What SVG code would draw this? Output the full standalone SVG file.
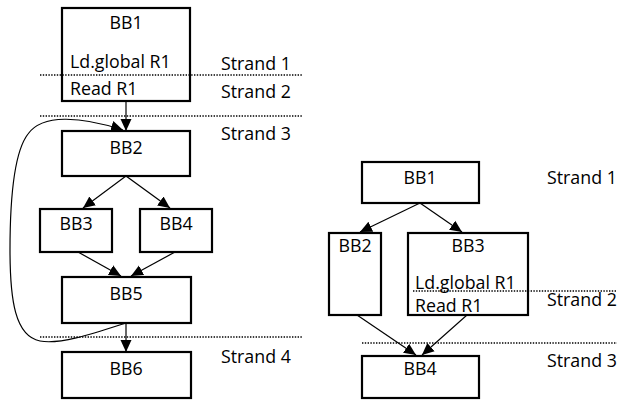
<svg xmlns="http://www.w3.org/2000/svg" width="617" height="403" viewBox="0 0 617 403">
<defs>
<marker id="ah" markerUnits="userSpaceOnUse" markerWidth="13" markerHeight="13" viewBox="0 0 13 13" refX="12" refY="6.5" orient="auto">
<path d="M0,1 L12,6.5 L0,12 Z" fill="#000"/>
</marker>
</defs>
<style>
.box{fill:#fff;stroke:#000;stroke-width:2.2}
.t{font-family:"Open Sans","Liberation Sans",sans-serif;font-size:17.8px;fill:#000}
.c{text-anchor:middle}
.e{fill:none;stroke:#000;stroke-width:1.2;marker-end:url(#ah)}
.dot{stroke:#000;stroke-width:1.6;stroke-dasharray:1.4 1.4;fill:none}
</style>
<rect width="617" height="403" fill="#fff"/>
<g id="L-BB1"><rect class="box" x="62" y="8" width="128" height="93"/>
<text class="t c" x="126" y="29">BB1</text>
<text class="t" x="70" y="68">Ld.global R1</text>
<text class="t" x="70" y="95">Read R1</text></g>
<g id="L-BB2"><rect class="box" x="62" y="131" width="128" height="45"/><text class="t c" x="126" y="154">BB2</text></g>
<g id="L-BB3"><rect class="box" x="40" y="209" width="72" height="43"/><text class="t c" x="76" y="230">BB3</text></g>
<g id="L-BB4"><rect class="box" x="140" y="209" width="72" height="43"/><text class="t c" x="176" y="230">BB4</text></g>
<g id="L-BB5"><rect class="box" x="62" y="277" width="129" height="46"/><text class="t c" x="126" y="300">BB5</text></g>
<g id="L-BB6"><rect class="box" x="62" y="352" width="129" height="46"/><text class="t c" x="126" y="375">BB6</text></g>
<g id="strands-left">
<text class="t" x="221" y="70">Strand 1</text>
<text class="t" x="221" y="98">Strand 2</text>
<text class="t" x="221" y="140">Strand 3</text>
<text class="t" x="221" y="363">Strand 4</text>
</g>
<g id="R-BB1"><rect class="box" x="362" y="162" width="117" height="41"/><text class="t c" x="420" y="184">BB1</text></g>
<g id="R-BB2"><rect class="box" x="329" y="233" width="52" height="82"/><text class="t c" x="355" y="252">BB2</text></g>
<g id="R-BB3"><rect class="box" x="408" y="233" width="120" height="82"/>
<text class="t c" x="468" y="252">BB3</text>
<text class="t" x="415" y="289">Ld.global R1</text>
<text class="t" x="415" y="312">Read R1</text></g>
<g id="R-BB4"><rect class="box" x="362" y="356" width="117" height="42"/><text class="t c" x="420" y="375">BB4</text></g>
<g id="strands-right">
<text class="t" x="547" y="184">Strand 1</text>
<text class="t" x="547" y="306">Strand 2</text>
<text class="t" x="547" y="367">Strand 3</text>
</g>
<g id="dividers">
<line class="dot" x1="40" y1="75" x2="303" y2="75"/>
<line class="dot" x1="40" y1="116" x2="303" y2="116"/>
<line class="dot" x1="40" y1="337" x2="303" y2="337"/>
<line class="dot" x1="413" y1="291" x2="617" y2="291"/>
<line class="dot" x1="362" y1="343" x2="617" y2="343"/>
</g>
<g id="connectors">
<line class="e" x1="126" y1="102" x2="126" y2="131"/>
<line class="e" x1="126" y1="176" x2="83" y2="208"/>
<line class="e" x1="126" y1="176" x2="170" y2="208"/>
<line class="e" x1="78" y1="252" x2="121" y2="276"/>
<line class="e" x1="175" y1="252" x2="131" y2="276"/>
<line class="e" x1="126" y1="323" x2="126" y2="352"/>
<path class="e" d="M126,323 C95,333 60,345 40,341 C15,336 10,300 10,250 C10,195 14,152 28,134 C42,114 80,116 123,130"/>
<line class="e" x1="420" y1="203" x2="360" y2="232"/>
<line class="e" x1="420" y1="203" x2="462" y2="232"/>
<line class="e" x1="357" y1="315" x2="416" y2="355"/>
<line class="e" x1="467" y1="315" x2="422" y2="355"/>
</g>
</svg>
